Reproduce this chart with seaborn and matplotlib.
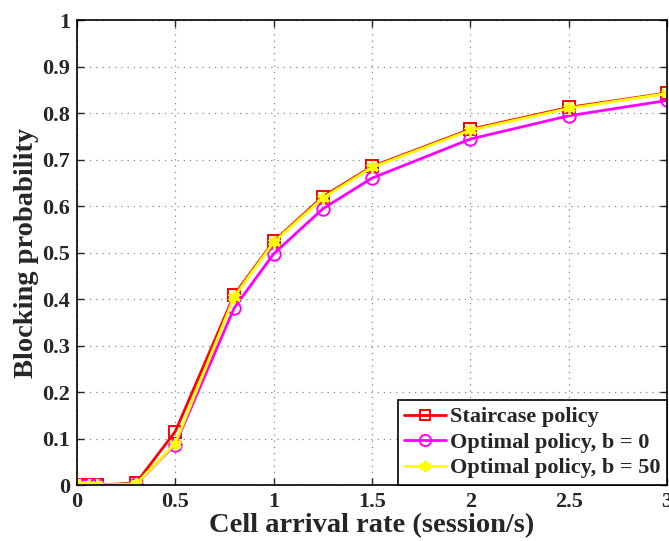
import numpy as np
import pandas as pd
import seaborn as sns
import matplotlib.pyplot as plt

# arrival rates (session/s)
rate = [0.01, 0.06, 0.1, 0.3, 0.5, 0.8, 1.0, 1.25, 1.5, 2.0, 2.5, 3.0]

staircase = [0.0, 0.0, 0.0, 0.004, 0.115, 0.409, 0.524, 0.620, 0.685, 0.765, 0.812, 0.843]
optimal_b0 = [0.0, 0.0, 0.0, 0.002, 0.087, 0.381, 0.497, 0.594, 0.660, 0.744, 0.794, 0.827]
optimal_b50 = [0.0, 0.0, 0.0, 0.002, 0.089, 0.405, 0.522, 0.617, 0.683, 0.763, 0.810, 0.842]

names = ['Staircase policy', 'Optimal policy, b = 0', 'Optimal policy, b = 50']

sns.set_style('ticks')
plt.rcParams['font.family'] = ['Liberation Serif', 'DejaVu Serif']
plt.rcParams['font.weight'] = 'bold'

fig = plt.figure(figsize=(6.69, 5.41), dpi=100)
ax = fig.add_axes([0.115, 0.1035, 0.882, 0.8595])

sns.lineplot(x=rate, y=staircase, ax=ax, color='red', lw=2, marker='s',
             markersize=8, markerfacecolor='none', markeredgecolor='red',
             markeredgewidth=1.4, label=names[0])
sns.lineplot(x=rate, y=optimal_b0, ax=ax, color='magenta', lw=2, marker='o',
             markersize=9, markerfacecolor='none', markeredgecolor='magenta',
             markeredgewidth=1.4, label=names[1])
sns.lineplot(x=rate, y=optimal_b50, ax=ax, color='yellow', lw=2, marker=(6, 2, 0),
             markersize=9, markeredgecolor='yellow', markeredgewidth=2.2,
             label=names[2])

ax.set_xlim(0, 3)
ax.set_ylim(0, 1)
ax.set_xticks([0, 0.5, 1, 1.5, 2, 2.5, 3])
ax.set_xticklabels(['0', '0.5', '1', '1.5', '2', '2.5', '3'])
ax.set_yticks(np.arange(0, 1.01, 0.1))
ax.set_yticklabels(['0', '0.1', '0.2', '0.3', '0.4', '0.5', '0.6', '0.7', '0.8', '0.9', '1'])
ax.grid(True, ls=(0, (1, 4)), color='#888888', lw=0.9)
ax.tick_params(direction='in', top=True, right=True, length=5, width=1,
               labelsize=16, pad=5)
for t in ax.get_xticklabels() + ax.get_yticklabels():
    t.set_fontweight('bold')
for s in ax.spines.values():
    s.set_visible(True)
    s.set_linewidth(1.2)
    s.set_color('black')

ax.set_xlabel('Cell arrival rate (session/s)', fontsize=20.5, fontweight='bold', labelpad=1)
ax.set_ylabel('Blocking probability', fontsize=20.5, fontweight='bold', labelpad=2)

leg = ax.legend(loc='lower right', borderaxespad=0, fancybox=False, framealpha=1,
                edgecolor='black', prop={'size': 16, 'weight': 'bold'},
                handlelength=1.9, handletextpad=0.15, labelspacing=0.22,
                borderpad=0.3, markerscale=0.9)
leg.get_frame().set_linewidth(1.2)

fig.savefig('out.png', dpi=100)
